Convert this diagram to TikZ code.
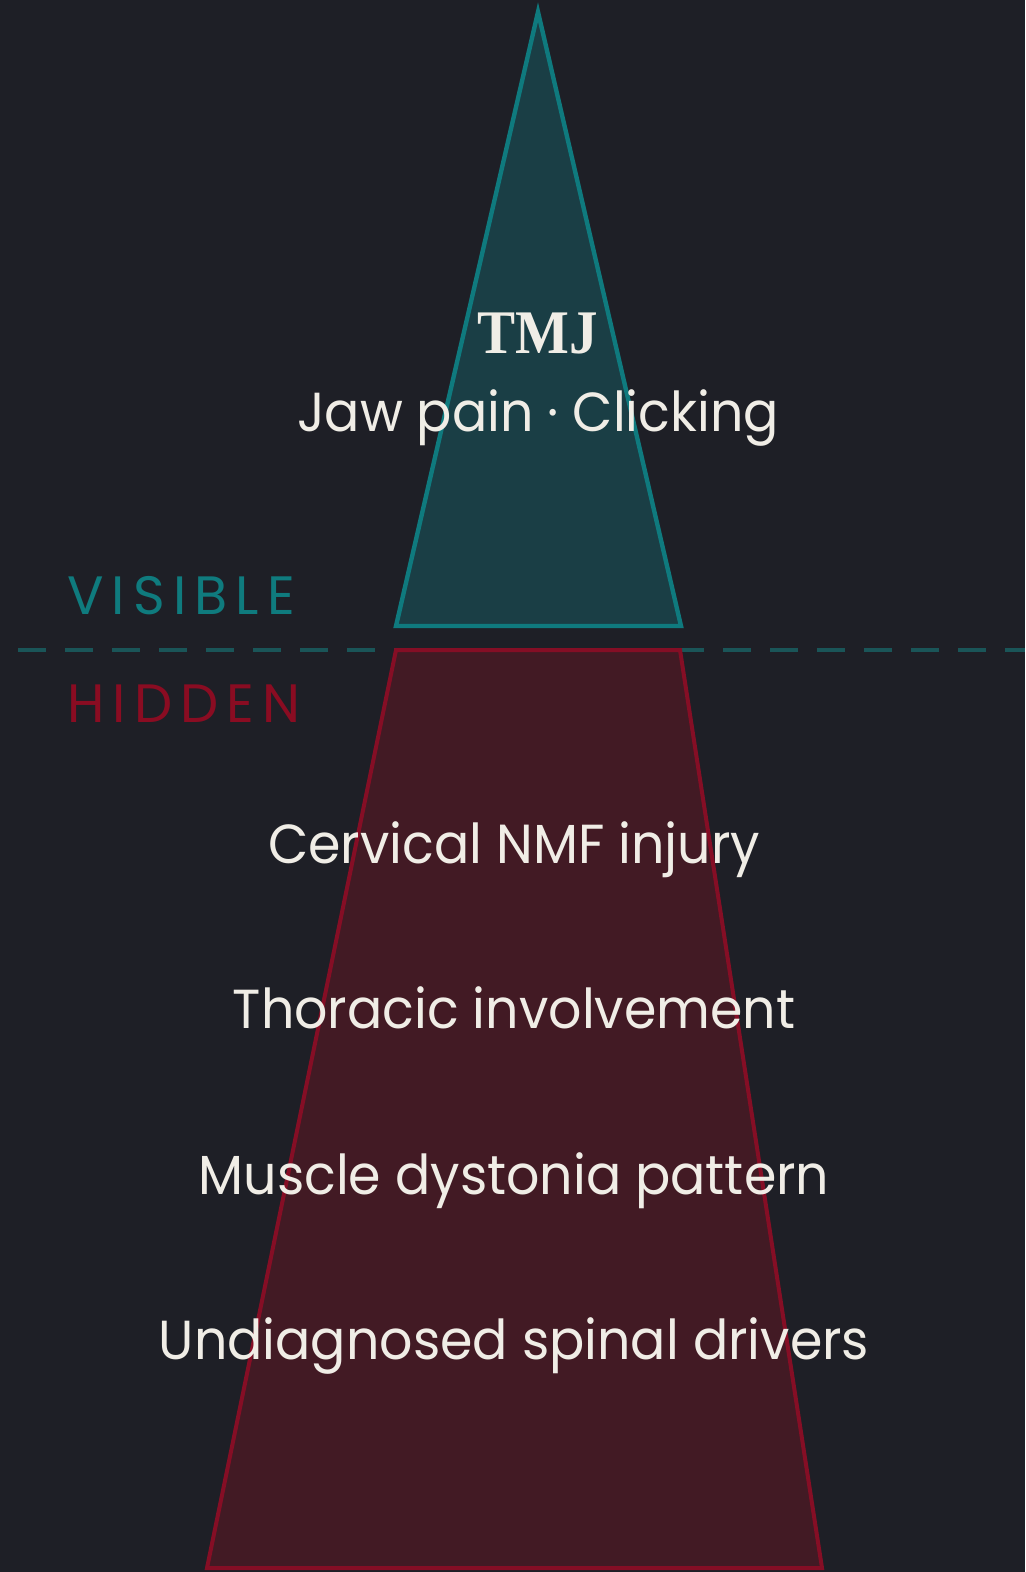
\documentclass[tikz,border=0pt]{standalone}
\usepackage{fontspec}
\setmainfont[FakeStretch=0.95]{Poppins}
\newfontfamily\tmjfont{Liberation Serif}
\newfontfamily\spacedfont[LetterSpace=15]{Poppins}
\definecolor{bg}{HTML}{1E1F26}
\definecolor{tealfill}{HTML}{1A3E45}
\definecolor{tealstroke}{HTML}{0F7A7E}
\definecolor{redfill}{HTML}{421A24}
\definecolor{redstroke}{HTML}{850E25}
\definecolor{dashcol}{HTML}{1A5558}
\definecolor{txt}{HTML}{F0EDE6}
\definecolor{vislab}{HTML}{0F7B7E}
\definecolor{hidlab}{HTML}{8A0C22}
\tikzset{
  tri/.style={fill=tealfill, draw=tealstroke, line width=2.2pt, line join=miter},
  trap/.style={draw=redstroke, line width=2pt, line join=miter},
  waterline/.style={draw=dashcol, line width=2pt, dash pattern=on 14pt off 9.5pt},
  body/.style={text=txt, anchor=base, inner sep=0pt, font=\fontsize{27.5}{33}\selectfont},
  zone/.style={anchor=base west, inner sep=0pt, font=\spacedfont\fontsize{27}{33}\selectfont},
  title/.style={text=txt, anchor=base, inner sep=0pt, font=\tmjfont\bfseries\fontsize{31}{36}\selectfont}
}
\begin{document}
\begin{tikzpicture}[x=0.5pt,y=-0.5pt]
\fill[bg] (0,0) rectangle (1025,1572);
\useasboundingbox (0,0) rectangle (1025,1572);
% visible tip
\coordinate (apex) at (538,12);
\coordinate (tr) at (681,626);
\coordinate (tl) at (396,626);
\draw[tri] (apex) -- (tr) -- (tl) -- cycle;
% waterline
\coordinate (wl) at (18,650);
\coordinate (wr) at (1025,650);
\draw[waterline] (wl) -- (wr);
% hidden mass
\coordinate (ht1) at (396,650);
\coordinate (ht2) at (680,650);
\coordinate (hb2) at (822,1568);
\coordinate (hb1) at (207,1568);
\fill[redfill] (ht1) -- (ht2) -- (hb2) -- (hb1) -- cycle;
\draw[trap] (ht1) -- (ht2) -- (hb2) -- (hb1) -- cycle;
% texts
\node[title] (tmj) at (538,354) {\scalebox{0.92}[1]{TMJ}};
\node[body] (sym) at (538,432) {Jaw pain · Clicking};
\node[zone, text=vislab] (vis) at (67,614) {VISIBLE};
\node[zone, text=hidlab] (hid) at (67,722) {HIDDEN};
\node[body] (c1) at (514,863) {Cervical NMF injury};
\node[body] (c2) at (514,1028) {Thoracic involvement};
\node[body] (c3) at (514,1194) {Muscle dystonia pattern};
\node[body] (c4) at (514,1359) {Undiagnosed spinal drivers};
\end{tikzpicture}
\end{document}
